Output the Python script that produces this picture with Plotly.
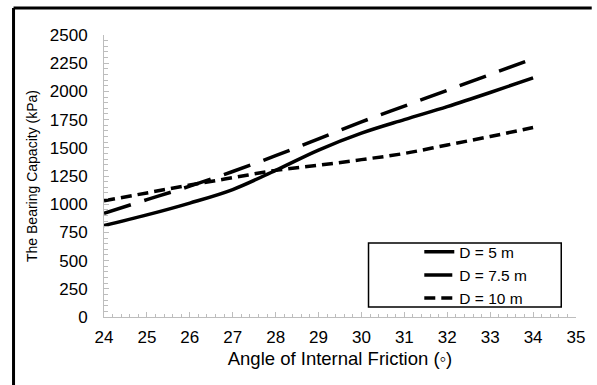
import plotly.graph_objects as go

angles = [24, 25, 26, 27, 28, 29, 30, 31, 32, 33, 34]
d5 = [810, 905, 1010, 1130, 1300, 1480, 1630, 1750, 1865, 1990, 2120]
d75 = [920, 1040, 1160, 1290, 1430, 1580, 1730, 1870, 2010, 2150, 2290]
d10 = [1030, 1100, 1170, 1235, 1300, 1345, 1395, 1450, 1525, 1600, 1680]
names = ["D = 5 m", "D = 7.5 m", "D = 10 m"]

fig = go.Figure()
fig.add_trace(go.Scatter(x=angles, y=d5, mode="lines", name=names[0],
                         line=dict(color="black", width=3.5, shape="spline")))
fig.add_trace(go.Scatter(x=angles, y=d75, mode="lines", name=names[1],
                         line=dict(color="black", width=3.5, dash="28px,14px", shape="spline")))
fig.add_trace(go.Scatter(x=angles, y=d10, mode="lines", name=names[2],
                         line=dict(color="black", width=3.5, dash="11px,6px", shape="spline")))

font = "Liberation Sans, Arial, sans-serif"
axcol = "#bdbdbd"
fig.update_layout(
    width=597, height=385,
    margin=dict(l=104, r=13, t=35, b=68),
    paper_bgcolor="white", plot_bgcolor="white",
    font=dict(family=font, size=17, color="black"),
    showlegend=True,
    legend=dict(x=0.668, y=0.29, xanchor="left", yanchor="top",
                bgcolor="rgba(0,0,0,0)", borderwidth=0,
                font=dict(size=15.5), tracegroupgap=0),
    xaxis=dict(range=[24, 35], dtick=1, tick0=24, showline=True, linecolor=axcol,
               linewidth=1, ticks="inside", ticklen=5, tickcolor=axcol,
               showgrid=False, zeroline=False,
               minor=dict(dtick=0.2, ticks="inside", ticklen=3, tickcolor=axcol),
               tickfont=dict(size=17),
               title=dict(text="Angle of Internal Friction (◦)", font=dict(size=18.5), standoff=5),
               ticklabelstandoff=5),
    yaxis=dict(range=[0, 2500], dtick=250, showline=True, linecolor=axcol,
               linewidth=1, ticks="inside", ticklen=5, tickcolor=axcol,
               showgrid=False, zeroline=False,
               minor=dict(dtick=50, ticks="inside", ticklen=4, tickcolor=axcol),
               tickfont=dict(size=17),
               title=dict(text="The Bearing Capacity (kPa)", font=dict(size=14), standoff=8),
               ticklabelstandoff=12),
)

# legend box
fig.add_shape(type="rect", xref="paper", yref="paper",
              x0=(373 - 104) / 480, x1=(569 - 104) / 480,
              y0=(317 - 307) / 282, y1=(317 - 243) / 282,
              line=dict(color="black", width=1.5), fillcolor="rgba(0,0,0,0)")
# outer frame (left and top)
fig.add_shape(type="line", xref="paper", yref="paper",
              x0=(12 - 104) / 480, x1=(12 - 104) / 480,
              y0=(317 - 390) / 282, y1=(317 - 8) / 282,
              line=dict(color="black", width=3))
fig.add_shape(type="line", xref="paper", yref="paper",
              x0=(12 - 104) / 480, x1=(600 - 104) / 480,
              y0=(317 - 8) / 282, y1=(317 - 8) / 282,
              line=dict(color="black", width=3))

fig.write_html("out.html")
